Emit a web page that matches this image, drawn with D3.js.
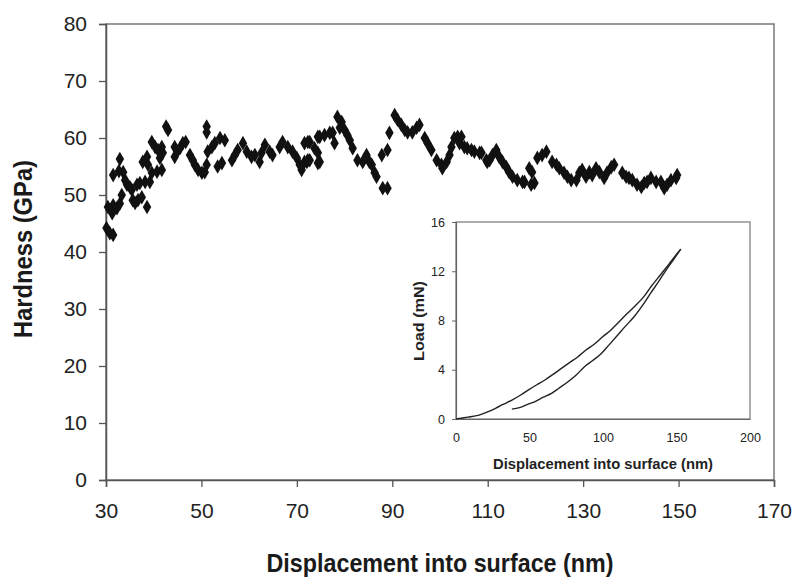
<!DOCTYPE html>
<html><head><meta charset="utf-8">
<script src="https://cdn.jsdelivr.net/npm/d3@7"></script>
<style>body{margin:0;background:#fff}svg{display:block}text{font-family:"Liberation Sans",Arial,sans-serif}</style>
</head><body><svg id="c" width="800" height="583"></svg>
<script>
// Main chart: hardness vs displacement
const dispMain = [30.1,30.8,31.5,30.4,31.5,32.3,31.3,32.9,31.5,32.7,32.9,33.6,34.0,34.4,35.0,35.4,33.3,35.6,36.1,36.7,37.5,38.6,36.5,37.1,38.2,39.2,39.6,40.7,41.7,38.8,37.7,38.6,39.6,40.3,40.9,41.7,41.9,41.3,42.6,43.0,44.4,44.9,45.5,44.4,46.1,46.7,47.6,48.2,48.6,49.3,50.1,50.7,51.1,51.1,51.3,52.2,52.8,51.1,53.9,54.9,53.4,54.3,56.4,57.0,57.6,58.7,59.5,60.5,61.2,62.2,62.6,63.3,64.3,64.9,66.4,67.0,68.1,69.1,70.0,70.6,71.0,71.6,72.3,72.7,74.4,74.4,71.6,72.3,72.1,72.7,73.7,74.4,74.8,74.8,75.8,76.9,77.5,77.9,78.5,79.4,79.0,80.0,80.6,81.1,81.7,82.7,83.8,84.6,85.2,85.7,86.3,86.7,87.8,89.0,88.0,89.0,89.4,90.5,91.1,91.9,92.6,93.2,94.2,95.1,95.7,96.8,97.4,98.2,99.3,100.3,100.5,101.4,102.0,102.4,103.0,103.7,104.5,104.1,105.1,105.7,106.6,107.2,108.3,108.7,109.7,109.9,110.4,111.0,111.8,112.4,113.1,113.9,114.5,115.2,116.2,117.3,117.7,118.7,119.3,119.1,119.8,120.4,121.4,122.3,123.5,124.4,125.0,126.0,126.7,127.5,128.6,129.2,129.8,130.6,131.3,131.9,132.7,133.4,134.4,135.0,135.9,136.5,138.2,139.0,139.6,140.3,141.3,142.2,142.8,143.4,144.2,145.3,146.3,147.0,147.6,148.4,149.5,149.7];
const hardMain = [44.2,43.3,43.0,47.9,48.2,47.7,46.8,48.5,53.5,54.2,56.3,54.0,52.6,51.8,51.4,50.9,50.0,49.1,48.6,49.1,49.6,47.9,51.8,52.1,52.3,52.3,53.9,54.1,54.4,55.3,55.8,56.7,59.3,58.4,57.9,58.4,57.4,56.5,62.0,61.4,58.4,57.6,58.2,56.7,59.1,59.3,57.0,56.1,55.3,54.4,53.9,54.0,62.0,61.0,57.6,58.4,59.1,55.3,60.0,59.6,55.0,55.6,56.1,57.0,57.9,59.1,57.6,56.7,57.0,55.8,57.4,58.8,57.6,57.0,58.4,59.3,58.4,57.6,56.5,55.3,54.4,55.8,56.1,59.3,60.2,55.6,59.1,59.3,55.8,56.1,58.2,57.4,55.8,60.2,60.5,60.9,60.9,59.1,63.7,62.8,61.8,61.4,60.5,59.6,58.2,56.1,55.8,57.0,55.8,55.3,53.9,53.2,57.0,57.9,51.2,51.2,60.9,64.0,63.2,62.3,61.4,61.0,61.0,61.8,62.3,60.0,59.1,57.9,56.1,55.3,54.7,55.8,57.0,58.4,60.0,60.2,60.2,59.1,58.4,58.2,57.9,57.6,57.4,57.4,56.1,55.8,56.1,57.0,57.9,56.7,55.8,54.9,54.0,53.2,52.6,52.3,52.3,54.7,54.0,51.8,52.1,56.5,57.0,57.6,55.8,55.3,54.7,53.9,53.2,52.6,52.6,53.9,54.4,53.2,54.0,53.5,54.7,54.0,53.0,53.9,54.9,55.3,53.9,53.2,53.0,52.6,51.8,51.4,52.1,52.3,53.0,52.3,52.3,51.2,51.8,52.6,53.0,53.5];
const xTicksMain = [30,50,70,90,110,130,150,170];
const yTicksMain = [0,10,20,30,40,50,60,70,80];

// Inset: load-displacement curve
const dispLoad = [0,2.2,8,15.7,21,26.9,32,38.1,44,49.3,55,60.5,66,71.7,77,83.0,88,94.2,100,105.4,111,116.6,122,127.8,133,139.0,145,150.2,152.9];
const loadLoad = [0,0.05,0.15,0.32,0.56,0.87,1.18,1.54,1.95,2.36,2.78,3.17,3.62,4.11,4.56,5.06,5.56,6.09,6.7,7.23,7.9,8.58,9.2,9.94,10.8,11.7,12.6,13.4,13.8];
const dispUnload = [152.9,148,143.5,138,132.3,127,121.1,115,109.9,104,98.7,93,87.4,82,76.2,70,65.0,59,53.8,48,44.8,41,38.0];
const loadUnload = [13.8,12.95,12.2,11.2,10.2,9.25,8.3,7.5,6.8,6.0,5.3,4.75,4.25,3.6,3.03,2.5,2.08,1.75,1.42,1.15,0.98,0.86,0.8];
const xTicksInset = [0,50,100,150,200];
const yTicksInset = [0,4,8,12,16];

const svg = d3.select("#c");
const m = {l:106, r:774, t:24, b:480};
const x = d3.scaleLinear().domain([30,170]).range([m.l, m.r]);
const y = d3.scaleLinear().domain([0,80]).range([m.b, m.t]);

// frame
svg.append("rect").attr("x",m.l).attr("y",m.t).attr("width",m.r-m.l).attr("height",m.b-m.t)
  .attr("fill","none").attr("stroke","#777").attr("stroke-width",1.5);

const gx = svg.append("g").attr("transform",`translate(0,${m.b})`)
  .call(d3.axisBottom(x).tickValues(xTicksMain).tickSize(7).tickPadding(16).tickFormat(d3.format("d")));
const gy = svg.append("g").attr("transform",`translate(${m.l},0)`)
  .call(d3.axisLeft(y).tickValues(yTicksMain).tickSize(7).tickPadding(12).tickFormat(d3.format("d")));
[gx,gy].forEach(g=>{
  g.select(".domain").attr("stroke","#555").attr("stroke-width",1.5);
  g.selectAll(".tick line").attr("stroke","#555").attr("stroke-width",1.3);
  g.selectAll(".tick text").attr("font-size",21).attr("fill","#222").attr("font-family","Liberation Sans, Arial, sans-serif");
});

svg.append("text").attr("x",440).attr("y",572).attr("text-anchor","middle")
  .attr("font-size",26).attr("font-weight","bold").attr("fill","#1a1a1a")
  .attr("textLength",347).attr("lengthAdjust","spacingAndGlyphs")
  .text("Displacement into surface (nm)");
svg.append("text").attr("transform","translate(32,249) rotate(-90)").attr("text-anchor","middle")
  .attr("font-size",25).attr("font-weight","bold").attr("fill","#1a1a1a")
  .attr("textLength",178).attr("lengthAdjust","spacingAndGlyphs")
  .text("Hardness (GPa)");

// diamonds
const sym = d3.symbol().type(d3.symbolDiamond).size(62);
svg.append("g").selectAll("path").data(dispMain.map((d,i)=>[d,hardMain[i]])).join("path")
  .attr("d",sym).attr("transform",d=>`translate(${x(d[0])},${y(d[1])})`)
  .attr("fill","#111");

// inset
const ix = d3.scaleLinear().domain([0,200]).range([456,750]);
const iy = d3.scaleLinear().domain([0,16]).range([419,222]);
const ins = svg.append("g");
ins.append("rect").attr("x",456).attr("y",222).attr("width",294).attr("height",197)
  .attr("fill","#fff").attr("stroke","#777").attr("stroke-width",1.2);
const igx = ins.append("g").attr("transform","translate(0,419)")
  .call(d3.axisBottom(ix).tickValues(xTicksInset).tickSize(0).tickPadding(14).tickFormat(d3.format("d")));
const igy = ins.append("g").attr("transform","translate(456,0)")
  .call(d3.axisLeft(iy).tickValues(yTicksInset).tickSize(4).tickPadding(7).tickFormat(d3.format("d")));
[igx,igy].forEach(g=>{
  g.select(".domain").attr("stroke","#666").attr("stroke-width",1.2);
  g.selectAll(".tick line").attr("stroke","#666");
  g.selectAll(".tick text").attr("font-size",12.5).attr("fill","#222").attr("font-family","Liberation Sans, Arial, sans-serif");
});
const line = d3.line().x(d=>ix(d[0])).y(d=>iy(d[1])).curve(d3.curveMonotoneX);
ins.append("path").datum(dispLoad.map((d,i)=>[d,loadLoad[i]])).attr("d",line)
  .attr("fill","none").attr("stroke","#222").attr("stroke-width",1.4);
ins.append("path").datum(dispUnload.map((d,i)=>[d,loadUnload[i]])).attr("d",line)
  .attr("fill","none").attr("stroke","#222").attr("stroke-width",1.4);
ins.append("text").attr("x",603).attr("y",469).attr("text-anchor","middle")
  .attr("font-size",15).attr("font-weight","bold").attr("fill","#222")
  .attr("textLength",220).attr("lengthAdjust","spacingAndGlyphs")
  .text("Displacement into surface (nm)");
ins.append("text").attr("transform","translate(424,321) rotate(-90)").attr("text-anchor","middle")
  .attr("font-size",14).attr("font-weight","bold").attr("fill","#222")
  .attr("textLength",80).attr("lengthAdjust","spacingAndGlyphs")
  .text("Load (mN)");
</script></body></html>
